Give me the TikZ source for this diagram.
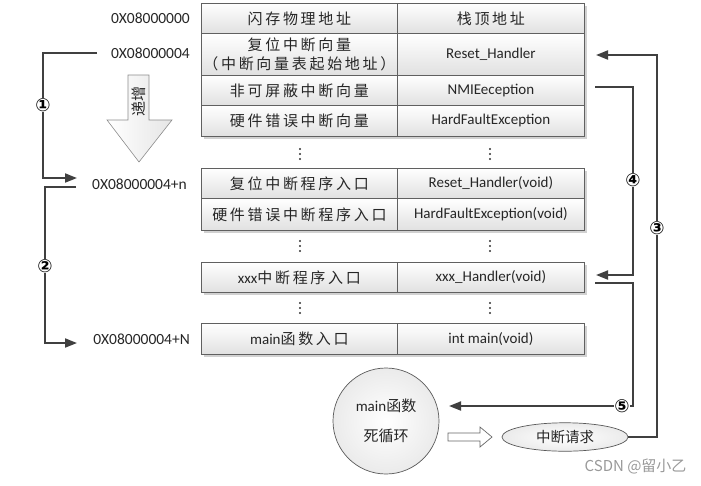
\documentclass[tikz,border=0pt]{standalone}
\usepackage{fontspec}
\setmainfont{Carlito}
\newfontfamily\cjk[LetterSpace=18]{Noto Sans CJK SC}
\newfontfamily\cjkn{Noto Sans CJK SC}
\newfontfamily\sym{DejaVu Sans}
\usetikzlibrary{arrows.meta,shapes.geometric,shadows}
\definecolor{ln}{HTML}{404040}
\definecolor{bd}{HTML}{606060}
\tikzset{
  cell/.style={draw=bd, line width=0.8pt, top color=white, bottom color=black!12,
    anchor=north west, inner sep=0pt, align=center,
    font=\fontsize{15}{20}\selectfont, text=black!85,
    drop shadow={shadow xshift=2.5pt, shadow yshift=-2.5pt, opacity=0.3, fill=black!60}},
  addr/.style={anchor=east, font=\fontsize{15.5}{18}\selectfont, text=black!85, inner sep=0pt},
  conn/.style={draw=ln, line width=1.8pt},
  arr/.style={conn, -{Triangle[length=12pt,width=9pt]}},
  num/.style={fill=white, inner sep=0.3pt, font=\sym\bfseries\fontsize{18}{18}\selectfont},
  vdots/.style={fill=black!80, circle, inner sep=0pt, minimum size=2.2pt},
}
\newcommand{\vd}[2]{\node[vdots] at (#1,#2-5) {};\node[vdots] at (#1,#2) {};\node[vdots] at (#1,#2+5) {};}
\begin{document}
\begin{tikzpicture}[x=1pt,y=-1pt]
\useasboundingbox (0,0) rectangle (701,485);
% top table
\node[cell, minimum width=196pt, minimum height=30pt] (a1) at (201,3) {\cjk 闪存物理地址};
\node[cell, minimum width=187pt, minimum height=30pt] (b1) at (397,3) {\cjk 栈顶地址};
\node[cell, minimum width=196pt, minimum height=42pt] (a2) at (201,33) {\cjk 复位中断向量\\[-1pt]\cjk （中断向量表起始地址）};
\node[cell, minimum width=187pt, minimum height=42pt] (b2) at (397,33) {Reset\_Handler};
\node[cell, minimum width=196pt, minimum height=30pt] (a3) at (201,75) {\cjk 非可屏蔽中断向量};
\node[cell, minimum width=187pt, minimum height=30pt] (b3) at (397,75) {NMIEeception};
\node[cell, minimum width=196pt, minimum height=31pt] (a4) at (201,105) {\cjk 硬件错误中断向量};
\node[cell, minimum width=187pt, minimum height=31pt] (b4) at (397,105) {HardFaultException};
\vd{300}{154}\vd{490}{154}
% second group
\node[cell, minimum width=196pt, minimum height=30pt] (a5) at (201,168) {\cjk 复位中断程序入口};
\node[cell, minimum width=187pt, minimum height=30pt] (b5) at (397,168) {Reset\_Handler(void)};
\node[cell, minimum width=196pt, minimum height=32pt] (a6) at (201,198) {\cjk 硬件错误中断程序入口};
\node[cell, minimum width=187pt, minimum height=32pt] (b6) at (397,198) {HardFaultException(void)};
\vd{300}{246}\vd{490}{246}
\node[cell, minimum width=196pt, minimum height=30pt] (a7) at (201,262) {xxx{\cjk 中断程序入口}};
\node[cell, minimum width=187pt, minimum height=30pt] (b7) at (397,262) {xxx\_Handler(void)};
\vd{300}{308}\vd{490}{308}
\node[cell, minimum width=196pt, minimum height=31pt] (a8) at (201,323) {main{\cjk 函数入口}};
\node[cell, minimum width=187pt, minimum height=31pt] (b8) at (397,323) {int main(void)};
% addresses
\node[addr] (l0) at (190,18) {0X08000000};
\node[addr] (l1) at (190,53) {0X08000004};
\node[addr] (l2) at (187,184) {0X08000004+n};
\node[addr] (l3) at (190,339) {0X08000004+N};
% big hollow down arrow
\path[draw=black!45, line width=0.6pt, left color=white, right color=black!10]
  (128,75) -- (149,75) -- (149,120) -- (172,120) -- (139,162) -- (107,120) -- (128,120) -- cycle;
\node[rotate=90, font=\cjkn\fontsize{15}{15}\selectfont, text=black!85] (inc) at (138.5,101) {递增};
% left connectors
\coordinate (p1s) at (97,53);
\coordinate (p1c) at (43,53);
\coordinate (p1d) at (43,178);
\coordinate (p1e) at (77,178);
\draw[arr] (p1s) -- (p1c) -- (p1d) -- (p1e);
\node[num] (n1) at (43,105) {①};
\coordinate (p2s) at (76,187);
\coordinate (p2c) at (45,187);
\coordinate (p2d) at (45,343);
\coordinate (p2e) at (77,343);
\draw[arr] (p2s) -- (p2c) -- (p2d) -- (p2e);
\node[num] (n2) at (45,266) {②};
% bottom shapes
\node[circle, draw=black!65, line width=0.7pt, minimum size=106pt, inner color=white, outer color=black!8, align=center, font=\fontsize{15}{30}\selectfont, text=black!85] (loop) at (386,421) {main{\cjkn 函数}\\{\cjkn 死循环}};
\path[draw=black!60, line width=0.7pt, fill=white]
  (448,433) -- (480,433) -- (480,427) -- (492,437) -- (480,447) -- (480,441) -- (448,441) -- cycle;
\node[ellipse, draw=black!65, line width=0.7pt, minimum width=126pt, minimum height=28pt, inner color=white, outer color=black!8, font=\cjkn\fontsize{14.5}{16}\selectfont, text=black!85] (irq) at (565,437) {中断请求};
% right connectors
\coordinate (c3a) at (657,437);
\coordinate (c3b) at (657,55);
\coordinate (c3e) at (596,55);
\draw[arr] (irq.east) -- (c3a) -- (c3b) -- (c3e);
\node[num] (n3) at (657,228) {③};
\coordinate (c4s) at (595,87);
\coordinate (c4a) at (633,87);
\coordinate (c4b) at (633,275);
\coordinate (c4e) at (596,275);
\draw[arr] (c4s) -- (c4a) -- (c4b) -- (c4e);
\node[num] (n4) at (633,180) {④};
\coordinate (c5s) at (595,283);
\coordinate (c5a) at (633,283);
\coordinate (c5b) at (633,406);
\coordinate (c5e) at (449,406);
\draw[arr] (c5s) -- (c5a) -- (c5b) -- (c5e);
\node[num] (n5) at (622,406) {⑤};
% watermark
\node[font=\cjkn\fontsize{15}{16}\selectfont, text=black!40, anchor=east] (wm) at (690,466) {CSDN @留小乙};
\end{tikzpicture}
\end{document}
